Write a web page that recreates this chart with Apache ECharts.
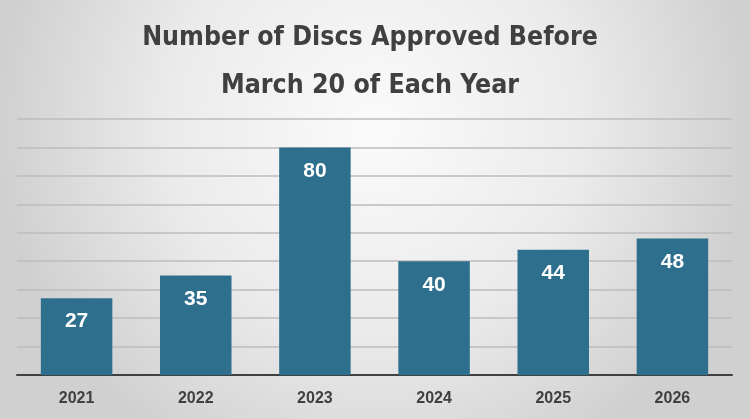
<!DOCTYPE html>
<html>
<head>
<meta charset="utf-8">
<script src="https://cdn.jsdelivr.net/npm/echarts@6/dist/echarts.min.js"></script>
<style>
html,body{margin:0;padding:0;}
#chart{width:750px;height:419px;}
</style>
</head>
<body>
<div id="chart"></div>
<script>
const titleLines = ['Number of Discs Approved Before', 'March 20 of Each Year'];
const years = ['2021', '2022', '2023', '2024', '2025', '2026'];
const discs = [27, 35, 80, 40, 44, 48];
const yMin = 0, yMax = 90, yStep = 10;

const chart = echarts.init(document.getElementById('chart'));
chart.setOption({
  backgroundColor: {
    type: 'radial', x: 0.5, y: 0.3, r: 0.9,
    colorStops: [
      {offset: 0, color: '#fbfbfb'},
      {offset: 0.55, color: '#ebebeb'},
      {offset: 1, color: '#d0d0d0'}
    ]
  },
  title: {
    text: titleLines.join('\n'),
    left: 365, top: 9, textAlign: 'center',
    textStyle: {
      fontFamily: '"DejaVu Sans Condensed", "Liberation Sans Narrow", sans-serif',
      fontWeight: 'bold', fontSize: 26.5, lineHeight: 48, color: '#404040'
    }
  },
  grid: {left: 17, right: 18, top: 119, bottom: 44, containLabel: false},
  xAxis: {
    type: 'category', data: years,
    axisLine: {lineStyle: {color: '#404040', width: 2}},
    axisTick: {show: false},
    axisLabel: {
      color: '#404040', fontWeight: 'bold', fontSize: 16,
      fontFamily: '"Liberation Sans", Arial, sans-serif', margin: 16
    }
  },
  yAxis: {
    type: 'value', min: yMin, max: yMax, interval: yStep,
    axisLabel: {show: false}, axisLine: {show: false}, axisTick: {show: false},
    splitLine: {lineStyle: {color: '#bcbcbc', width: 1.5}}
  },
  series: [{
    type: 'bar', data: discs, barWidth: '60%',
    itemStyle: {color: '#2f6f8e'},
    label: {
      show: true, position: 'insideTop', distance: 13,
      color: '#ffffff', fontWeight: 'bold', fontSize: 21,
      fontFamily: '"Liberation Sans", Arial, sans-serif'
    }
  }]
});
</script>
</body>
</html>
